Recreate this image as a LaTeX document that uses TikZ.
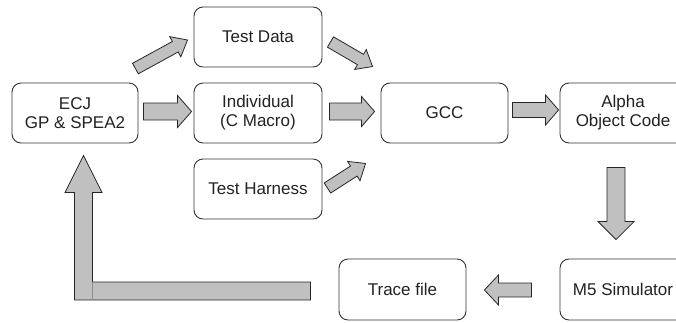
\documentclass[tikz,border=0pt]{standalone}
\usepackage{fontspec}
\setmainfont{Liberation Sans}
\usetikzlibrary{calc}
\definecolor{boxline}{HTML}{333333}
\definecolor{txt}{HTML}{222222}
\definecolor{arrfill}{HTML}{C0C0C0}
\tikzset{
  box/.style={draw=boxline, line width=0.9pt, rounded corners=9pt, fill=white,
    align=center, text=txt, inner sep=0pt,
    font=\fontsize{17}{19}\selectfont},
  blockarrow/.style={draw=black!85, line width=0.8pt, fill=arrfill, line join=miter},
}
\newcommand\blkarrow[5]{%
  \coordinate (bah) at ($(#2)!#5!(#1)$);
  \draw[blockarrow] ($(#1)!#3!90:(#2)$) -- ($(bah)!#3!90:(#2)$) -- ($(bah)!#4!90:(#2)$) -- (#2)
    -- ($(bah)!#4!-90:(#2)$) -- ($(bah)!#3!-90:(#2)$) -- ($(#1)!#3!-90:(#2)$) -- cycle;}
\begin{document}
\begin{tikzpicture}[x=1pt,y=-1pt]
\useasboundingbox (0,0) rectangle (676,322);
\clip (0,0) rectangle (676,322);
% boxes
\node[box, minimum width=126pt, minimum height=60pt] (ecj) at (75,113) {ECJ\\GP \& SPEA2};
\node[box, minimum width=128pt, minimum height=60pt] (td) at (258,37) {Test Data};
\node[box, minimum width=128pt, minimum height=60pt] (ind) at (258,113) {Individual\\(C Macro)};
\node[box, minimum width=128pt, minimum height=60pt] (th) at (258,189) {Test Harness};
\node[box, minimum width=127pt, minimum height=60pt] (gcc) at (444.5,113) {GCC};
\node[box, minimum width=126pt, minimum height=60pt] (alpha) at (623,113) {Alpha\\Object Code};
\node[box, minimum width=127pt, minimum height=61pt] (trace) at (402.5,289.5) {Trace file};
\node[box, minimum width=126pt, minimum height=61pt] (m5) at (623,289.5) {M5 Simulator};
% arrow end points
\coordinate (a1s) at ($(ecj.north east)+(-3,-14)$);
\coordinate (a1t) at ($(td.west)+(-6,3)$);
\coordinate (a2s) at ($(td.east)+(8,5)$);
\coordinate (a2t) at ($(gcc.north west)+(-8,-16)$);
\coordinate (a3s) at ($(th.east)+(5,-1)$);
\coordinate (a3t) at ($(gcc.south west)+(-15,20)$);
\coordinate (a4s) at ($(ecj.east)+(5,-1.5)$);
\coordinate (a4t) at ($(ind.west)+(-2,-1.5)$);
\coordinate (a5s) at ($(ind.east)+(7,-1.5)$);
\coordinate (a5t) at ($(gcc.west)+(-6,-1.5)$);
\coordinate (a6s) at ($(gcc.east)+(4,-3)$);
\coordinate (a6t) at ($(alpha.west)+(-1,-3)$);
\coordinate (a7s) at ($(alpha.south)+(-7,24)$);
\coordinate (a7t) at ($(m5.north)+(-7,-19)$);
\coordinate (a8s) at ($(m5.west)+(-28,0.5)$);
\coordinate (a8t) at ($(trace.east)+(18,0.5)$);
\coordinate (rs) at ($(trace.west)+(-28,1.5)$);
\coordinate (rt) at ($(ecj.south)+(8.5,12)$);
% block arrows
\blkarrow{a1s}{a1t}{6pt}{11.5pt}{14pt}
\blkarrow{a2s}{a2t}{6pt}{11.5pt}{14pt}
\blkarrow{a3s}{a3t}{6pt}{11.5pt}{14pt}
\blkarrow{a4s}{a4t}{8.5pt}{16pt}{14pt}
\blkarrow{a5s}{a5t}{8.5pt}{15pt}{13pt}
\blkarrow{a6s}{a6t}{7.5pt}{15pt}{13pt}
\blkarrow{a7s}{a7t}{9pt}{18pt}{18pt}
\blkarrow{a8s}{a8t}{7pt}{15pt}{14pt}
% return L-shaped arrow
\draw[blockarrow] ($(rs)+(0,-9)$) -- ($(rt|-rs)+(9,-9)$) -- ($(rt)+(9,37)$) -- ($(rt)+(18.5,37)$)
  -- (rt) -- ($(rt)+(-18.5,37)$) -- ($(rt)+(-9,37)$) -- ($(rt|-rs)+(-9,9)$) -- ($(rs)+(0,9)$) -- cycle;
\draw[black!45, line width=0.8pt] ($(rt|-rs)+(9,-9)$) -- ($(rt|-rs)+(9,9)$);
\end{tikzpicture}
\end{document}
